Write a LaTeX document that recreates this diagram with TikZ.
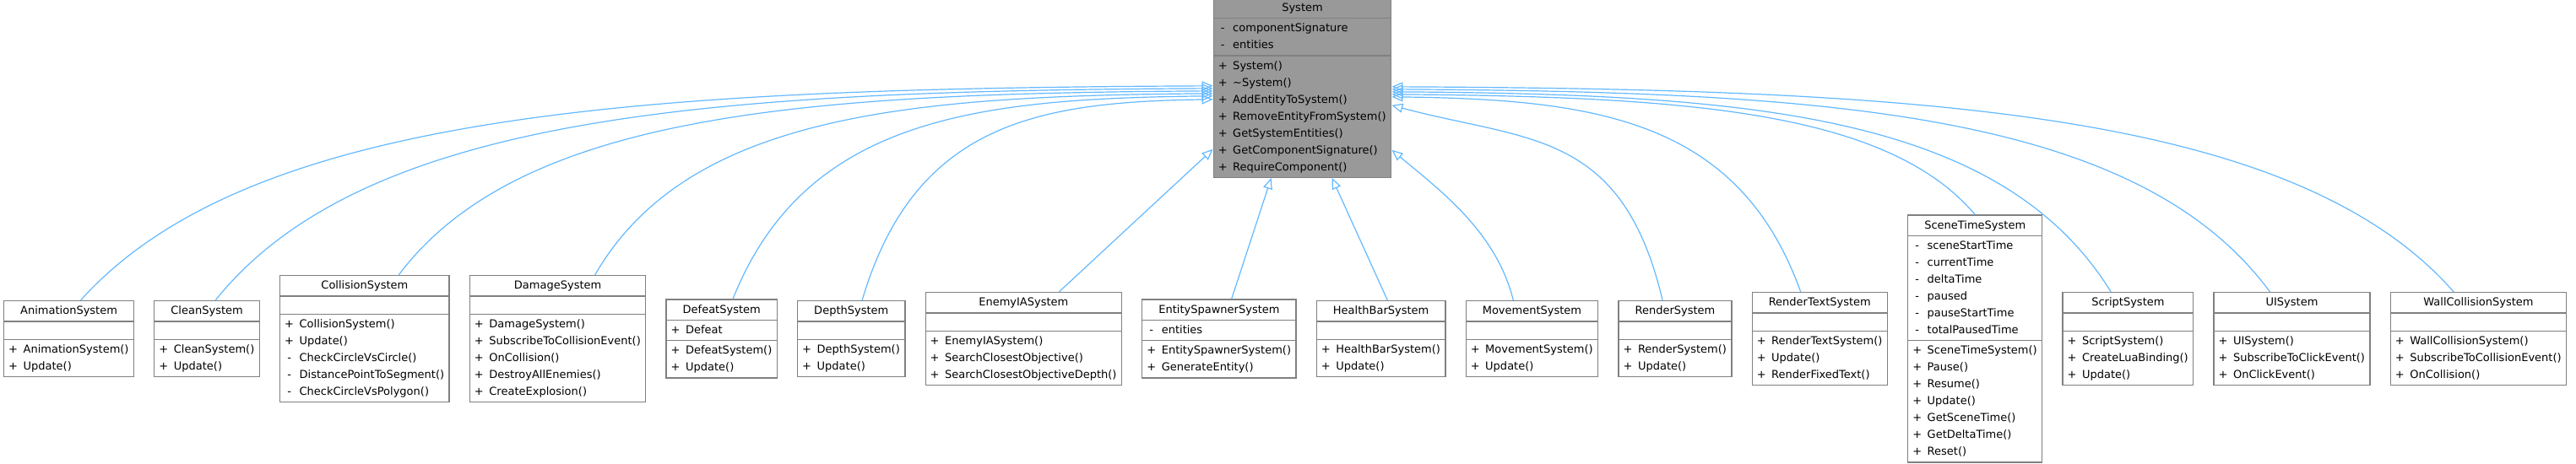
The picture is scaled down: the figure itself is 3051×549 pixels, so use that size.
\documentclass[tikz,border=0pt]{standalone}
\usepackage{fontspec}
\setmainfont{DejaVu Sans}
\usetikzlibrary{positioning, calc, shapes.multipart, arrows.meta}
\definecolor{edgeblue}{RGB}{99,184,255}
\definecolor{boxline}{RGB}{128,128,128}
\definecolor{basefill}{RGB}{153,153,153}
\newcommand{\pubm}[1]{\strut\makebox[10pt][c]{+}\hspace{7pt}#1}
\newcommand{\privm}[1]{\strut\makebox[10pt][c]{-}\hspace{7pt}#1}
\newcommand{\noattr}{\rule[-5pt]{0pt}{17pt}}
\tikzset{
  every node/.style={font=\fontsize{13}{20}\selectfont},
  cls/.style={rectangle split, rectangle split parts=3, draw=boxline, line width=1.3pt, fill=white, align=left, rectangle split part align={center,left,left}, inner xsep=6pt, inner ysep=1.5pt},
  base/.style={cls, fill=basefill},
  inh/.style={draw=edgeblue, line width=1.2pt, -{Triangle[open, length=13pt, width=11pt]}},
}

\begin{document}
\begin{tikzpicture}[x=1pt, y=1pt, node distance=23pt]
  \useasboundingbox (0,-147.5) rectangle (3051,401.5);
  % ---- derived systems, one row -------------------------------------------
  \node[cls, anchor=west] (anim) at (4,0) {\strut AnimationSystem\nodepart{two}\noattr\nodepart{three}\pubm{AnimationSystem()}\\\pubm{Update()}};
  \node[cls, right=of anim] (clean) {\strut CleanSystem\nodepart{two}\noattr\nodepart{three}\pubm{CleanSystem()}\\\pubm{Update()}};
  \node[cls, right=of clean] (coll) {\strut CollisionSystem\nodepart{two}\noattr\nodepart{three}\pubm{CollisionSystem()}\\\pubm{Update()}\\\privm{CheckCircleVsCircle()}\\\privm{DistancePointToSegment()}\\\privm{CheckCircleVsPolygon()}};
  \node[cls, right=of coll] (dmg) {\strut DamageSystem\nodepart{two}\noattr\nodepart{three}\pubm{DamageSystem()}\\\pubm{SubscribeToCollisionEvent()}\\\pubm{OnCollision()}\\\pubm{DestroyAllEnemies()}\\\pubm{CreateExplosion()}};
  \node[cls, right=of dmg] (defeat) {\strut DefeatSystem\nodepart{two}\pubm{Defeat}\nodepart{three}\pubm{DefeatSystem()}\\\pubm{Update()}};
  \node[cls, right=of defeat] (depth) {\strut DepthSystem\nodepart{two}\noattr\nodepart{three}\pubm{DepthSystem()}\\\pubm{Update()}};
  \node[cls, right=of depth] (enemy) {\strut EnemyIASystem\nodepart{two}\noattr\nodepart{three}\pubm{EnemyIASystem()}\\\pubm{SearchClosestObjective()}\\\pubm{SearchClosestObjectiveDepth()}};
  \node[cls, right=of enemy] (spawn) {\strut EntitySpawnerSystem\nodepart{two}\privm{entities}\nodepart{three}\pubm{EntitySpawnerSystem()}\\\pubm{GenerateEntity()}};
  \node[cls, right=of spawn] (health) {\strut HealthBarSystem\nodepart{two}\noattr\nodepart{three}\pubm{HealthBarSystem()}\\\pubm{Update()}};
  \node[cls, right=of health] (move) {\strut MovementSystem\nodepart{two}\noattr\nodepart{three}\pubm{MovementSystem()}\\\pubm{Update()}};
  \node[cls, right=of move] (render) {\strut RenderSystem\nodepart{two}\noattr\nodepart{three}\pubm{RenderSystem()}\\\pubm{Update()}};
  \node[cls, right=of render] (rtext) {\strut RenderTextSystem\nodepart{two}\noattr\nodepart{three}\pubm{RenderTextSystem()}\\\pubm{Update()}\\\pubm{RenderFixedText()}};
  \node[cls, right=of rtext] (scene) {\strut SceneTimeSystem\nodepart{two}\privm{sceneStartTime}\\\privm{currentTime}\\\privm{deltaTime}\\\privm{paused}\\\privm{pauseStartTime}\\\privm{totalPausedTime}\nodepart{three}\pubm{SceneTimeSystem()}\\\pubm{Pause()}\\\pubm{Resume()}\\\pubm{Update()}\\\pubm{GetSceneTime()}\\\pubm{GetDeltaTime()}\\\pubm{Reset()}};
  \node[cls, right=of scene] (script) {\strut ScriptSystem\nodepart{two}\noattr\nodepart{three}\pubm{ScriptSystem()}\\\pubm{CreateLuaBinding()}\\\pubm{Update()}};
  \node[cls, right=of script] (ui) {\strut UISystem\nodepart{two}\noattr\nodepart{three}\pubm{UISystem()}\\\pubm{SubscribeToClickEvent()}\\\pubm{OnClickEvent()}};
  \node[cls, right=of ui] (wall) {\strut WallCollisionSystem\nodepart{two}\noattr\nodepart{three}\pubm{WallCollisionSystem()}\\\pubm{SubscribeToCollisionEvent()}\\\pubm{OnCollision()}};

  % ---- base class ----------------------------------------------------------
  \node[base, anchor=south] (sys) at (1542.5,190.5) {\strut System\nodepart{two}\privm{componentSignature}\\\privm{entities}\nodepart{three}\pubm{System()}\\\pubm{\textasciitilde System()}\\\pubm{AddEntityToSystem()}\\\pubm{RemoveEntityFromSystem()}\\\pubm{GetSystemEntities()}\\\pubm{GetComponentSignature()}\\\pubm{RequireComponent()}};

  % ---- inheritance edges ---------------------------------------------------
  \foreach \c/\f/\d/\ax/\ay/\bx in {anim/.59/105/201/224/-670, clean/.58/108/177/221/-590, coll/.70/111/144/192/-481, dmg/.71/114/109/189/-364, defeat/.60/117/85/213/-283, depth/.60/121/62/210/-207}
    \draw[inh] ($(\c.north west)!\f!(\c.north east)$) .. controls +(\ax,\ay) and +(\bx,-3) .. ($(sys.north west)+(0,-\d)$);
  \foreach \c/\f/\d/\ax/\ay/\bx/\by in {move/.36/181/-20/80/60/-50, render/.39/128/-48/203/160/-43, rtext/.36/118/-73/203/244/-3, scene/.5/115/-104/123/348/-3, script/.37/112/-129/209/429/-3, ui/.36/109/-156/212/520/-3, wall/.36/106/-188/214/628/-3}
    \draw[inh] ($(\c.north west)!\f!(\c.north east)$) .. controls +(\ax,\ay) and +(\bx,\by) .. ($(sys.north east)+(0,-\d)$);
  \draw[inh] ($(enemy.north west)!.68!(enemy.north east)$) -- ($(sys.north west)+(0,-180)$);
  \draw[inh] ($(spawn.north west)!.58!(spawn.north east)$) -- ($(sys.south west)+(69,0)$);
  \draw[inh] ($(health.north west)!.55!(health.north east)$) -- ($(sys.south west)+(141,0)$);
\end{tikzpicture}
\end{document}
